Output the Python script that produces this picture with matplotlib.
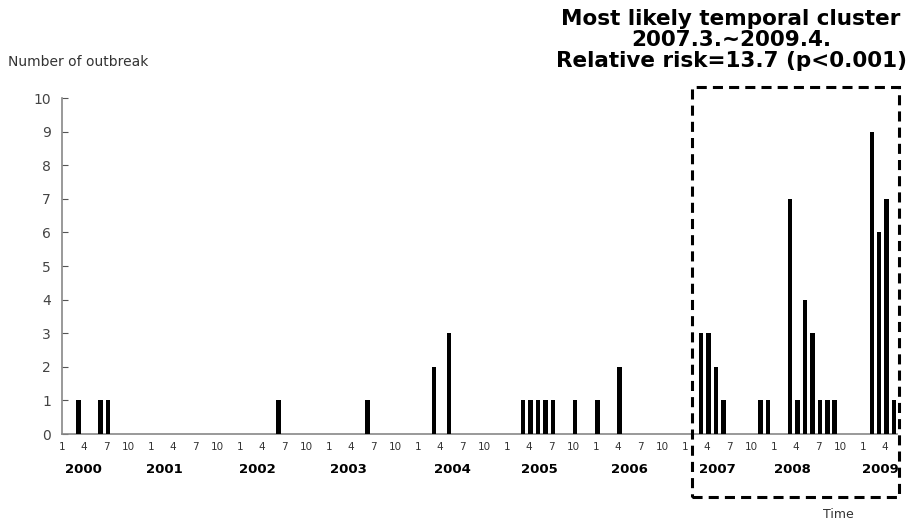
import matplotlib.pyplot as plt
from matplotlib.patches import Rectangle

# outbreaks per month (only months with at least one outbreak)
anos = [2000, 2000, 2000, 2002, 2003, 2004, 2004,
        2005, 2005, 2005, 2005, 2005, 2005, 2006, 2006,
        2007, 2007, 2007, 2007, 2007, 2007,
        2008, 2008, 2008, 2008, 2008, 2008, 2008,
        2009, 2009, 2009, 2009]
meses = [3, 6, 7, 6, 6, 3, 5,
         3, 4, 5, 6, 7, 10, 1, 4,
         3, 4, 5, 6, 11, 12,
         3, 4, 5, 6, 7, 8, 9,
         2, 3, 4, 5]
surtos = [1, 1, 1, 1, 1, 2, 3,
          1, 1, 1, 1, 1, 1, 1, 2,
          3, 3, 2, 1, 1, 1,
          7, 1, 4, 3, 1, 1, 1,
          9, 6, 7, 1]

ano_ini = 2000
anos_eixo = list(range(2000, 2010))
meses_tick = [1, 4, 7, 10]
# where each year label sits inside its year (in months)
desloc_ano = [2.65, 1.6, 2.2, 2.4, 4.5, 4.2, 4.3, 4.2, 2.3, 2.2]

idx = [(a - ano_ini) * 12 + (m - 1) for a, m in zip(anos, meses)]

fig = plt.figure(figsize=(9.16, 5.26), dpi=100)
ax = fig.add_axes([62 / 916, 1 - 434 / 526, (897 - 62) / 916, 336 / 526])

ax.bar(idx, surtos, width=0.6, color='black', zorder=3)

ax.set_xlim(-0.2, 112.4)
ax.set_ylim(0, 10)
ax.set_yticks(range(0, 11))
ax.tick_params(axis='y', direction='in', length=4, colors='#555555',
               labelcolor='#444444', labelsize=10, pad=8)

pos_ticks, lab_ticks = [], []
for a in anos_eixo:
    for m in meses_tick:
        i = (a - ano_ini) * 12 + (m - 1)
        if i <= 111:
            pos_ticks.append(i - 0.2)
            lab_ticks.append(str(m))
ax.set_xticks(pos_ticks)
ax.set_xticklabels(lab_ticks, fontsize=7.5, color='#333333')
ax.tick_params(axis='x', length=0, pad=6)

for a, d in zip(anos_eixo, desloc_ano):
    ax.text((a - ano_ini) * 12 + d, -1.05, str(a), ha='center', va='center',
            fontsize=9.5, fontweight='bold')

for s in ['top', 'right']:
    ax.spines[s].set_visible(False)
for s in ['left', 'bottom']:
    ax.spines[s].set_color('#888888')
    ax.spines[s].set_linewidth(1.2)

fig.text(8 / 916, 1 - 62 / 526, 'Number of outbreak', fontsize=10,
         color='#333333', va='center', ha='left')
fig.text(838 / 916, 1 - 514 / 526, 'Time', fontsize=9,
         color='#333333', va='center', ha='center')

fig.text(731 / 916, 1 - 40 / 526,
         'Most likely temporal cluster\n2007.3.~2009.4.\nRelative risk=13.7 (p<0.001)',
         ha='center', va='center', fontsize=15.5, fontweight='bold',
         linespacing=1.08)

caixa = Rectangle((692 / 916, 1 - 497 / 526), (899 - 692) / 916, (497 - 87) / 526,
                  transform=fig.transFigure, fill=False, edgecolor='black',
                  linewidth=2.2, linestyle=(0, (3.3, 2)), clip_on=False)
fig.patches.append(caixa)

plt.savefig('out.png', dpi=100)
